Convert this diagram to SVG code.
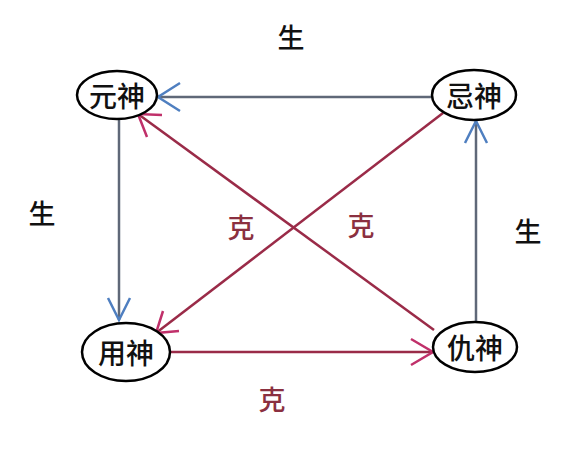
<svg xmlns="http://www.w3.org/2000/svg" width="580" height="469" viewBox="0 0 580 469">
<defs>
<style>
.node ellipse{fill:#fff;stroke:#000;stroke-width:2.5}
.node text{font-family:"Noto Sans CJK SC",sans-serif;font-size:28px;font-weight:500;fill:#111;text-anchor:middle;dominant-baseline:central}
.gl{stroke:#5f6878;stroke-width:2.5;fill:none}
.rl{stroke:#9a2b48;stroke-width:2.5;fill:none}
.ga{stroke:#4f7fc0;stroke-width:2.5;fill:none}
.ra{stroke:#c0306a;stroke-width:2.5;fill:none}
.lbl{font-family:"Noto Sans CJK SC",sans-serif;font-size:27px;font-weight:500;text-anchor:middle;dominant-baseline:central}
</style>
</defs>
<rect width="580" height="469" fill="#fff"/>
<g id="connectors">
<line class="gl" x1="432" y1="97" x2="158" y2="97"/>
<polyline class="ga" points="180,83 158,97 180,111"/>
<line class="gl" x1="119" y1="120" x2="119" y2="320"/>
<polyline class="ga" points="108,298 119,320 130,298"/>
<line class="gl" x1="476" y1="321" x2="476" y2="121"/>
<polyline class="ga" points="465,143 476,121 487,143"/>
<line class="rl" x1="170" y1="352" x2="433" y2="352"/>
<polyline class="ra" points="411,339 433,352 411,365"/>
<line class="rl" x1="434" y1="330" x2="138" y2="114"/>
<polyline class="ra" points="162,115 138,114 147,137"/>
<line class="rl" x1="443" y1="113" x2="156" y2="333"/>
<polyline class="ra" points="163,311 156,333 179,331"/>
</g>
<g id="yuanshen" class="node"><ellipse cx="117" cy="95" rx="40" ry="24"/><text x="117" y="95">元神</text></g>
<g id="jishen" class="node"><ellipse cx="474" cy="95" rx="42" ry="25"/><text x="474" y="95">忌神</text></g>
<g id="yongshen" class="node"><ellipse cx="126" cy="352" rx="44" ry="29"/><text x="126" y="352">用神</text></g>
<g id="choushen" class="node"><ellipse cx="475" cy="347" rx="42" ry="25"/><text x="475" y="347">仇神</text></g>
<g id="labels">
<text class="lbl" x="291" y="36" fill="#111">生</text>
<text class="lbl" x="42" y="212" fill="#111">生</text>
<text class="lbl" x="528" y="230" fill="#111">生</text>
<text class="lbl" x="241" y="226" fill="#8b3040">克</text>
<text class="lbl" x="361" y="224" fill="#8b3040">克</text>
<text class="lbl" x="272" y="398" fill="#8b3040">克</text>
</g>
</svg>
